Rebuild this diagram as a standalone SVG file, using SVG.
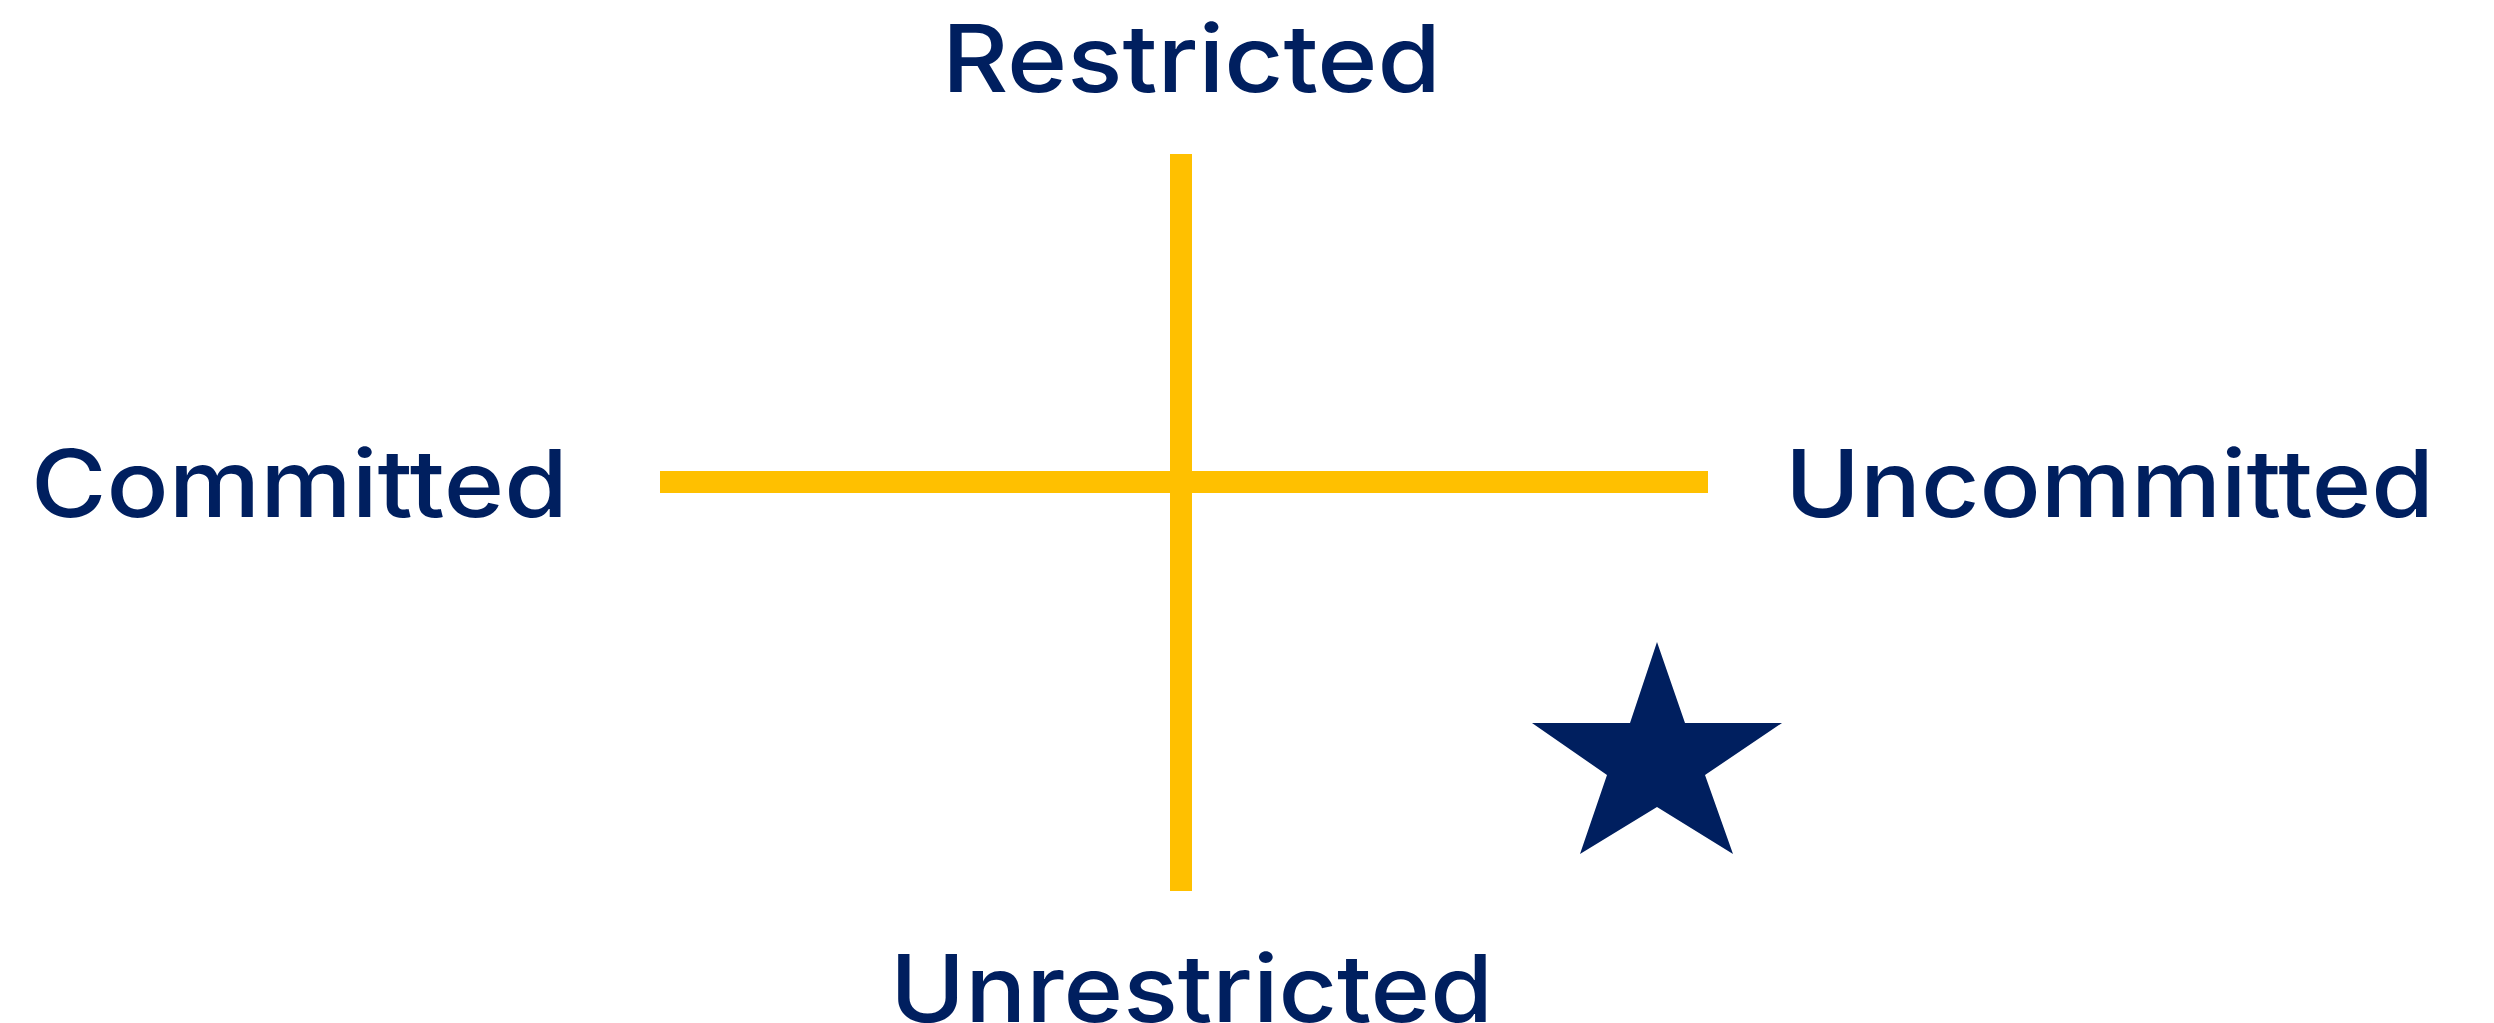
<svg xmlns="http://www.w3.org/2000/svg" width="2494" height="1023" viewBox="0 0 2494 1023">
<style>
.lbl{font-family:Inter,"Liberation Sans",sans-serif;font-weight:500;font-size:93px;fill:#001F5F}
.axis{stroke:#FFC000;stroke-width:22;fill:none}
</style>
<rect width="2494" height="1023" fill="#FFFFFF"/>
<g id="connectors">
<line class="axis" x1="1181" y1="154" x2="1181" y2="891"/>
<line class="axis" x1="660" y1="482" x2="1708" y2="482"/>
</g>
<g id="restricted"><text class="lbl" x="942" y="92" textLength="499" lengthAdjust="spacingAndGlyphs">Restricted</text></g>
<g id="committed"><text class="lbl" x="31" y="517" textLength="537" lengthAdjust="spacingAndGlyphs">Committed</text></g>
<g id="uncommitted"><text class="lbl" x="1785" y="517" textLength="649" lengthAdjust="spacingAndGlyphs">Uncommitted</text></g>
<g id="unrestricted"><text class="lbl" x="890" y="1022" textLength="603" lengthAdjust="spacingAndGlyphs">Unrestricted</text></g>
<g id="star"><polygon points="1657,642 1685,723 1782,723 1705,775 1733,854 1657,807 1580,854 1607,775 1532,723 1630,723" fill="#001F5F"/></g>
</svg>
